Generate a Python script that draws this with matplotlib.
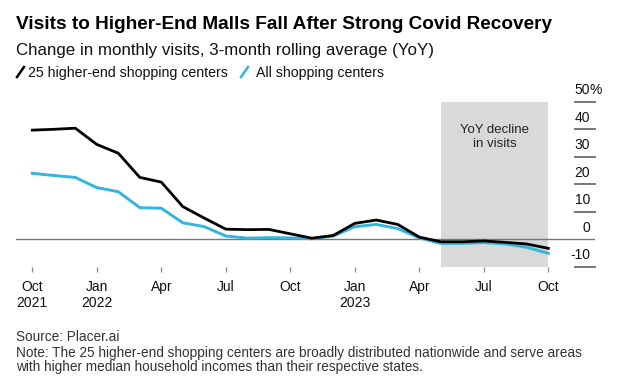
import matplotlib
matplotlib.use("Agg")
import matplotlib.pyplot as plt
from matplotlib.lines import Line2D
import matplotlib.transforms as mtransforms
import numpy as np

# ---------------- data ----------------
months = ["Oct 2021", "Nov 2021", "Dec 2021", "Jan 2022", "Feb 2022", "Mar 2022",
          "Apr 2022", "May 2022", "Jun 2022", "Jul 2022", "Aug 2022", "Sep 2022",
          "Oct 2022", "Nov 2022", "Dec 2022", "Jan 2023", "Feb 2023", "Mar 2023",
          "Apr 2023", "May 2023", "Jun 2023", "Jul 2023", "Aug 2023", "Sep 2023",
          "Oct 2023"]
higher_end = [39.7, 40.0, 40.4, 34.5, 31.3, 22.5, 20.8, 11.9, 7.7, 3.7, 3.5, 3.6,
              2.0, 0.4, 1.4, 5.8, 7.0, 5.4, 0.8, -0.9, -0.9, -0.6, -1.1, -1.7, -3.3]
all_centers = [24.0, 23.2, 22.5, 18.8, 17.3, 11.5, 11.3, 6.0, 4.6, 1.2, 0.4, 0.6,
               0.5, 0.2, 1.2, 4.6, 5.4, 3.9, 0.5, -1.5, -1.5, -1.2, -1.7, -2.9, -5.1]
tick_months = ["Oct 2021", "Jan 2022", "Apr 2022", "Jul 2022", "Oct 2022",
               "Jan 2023", "Apr 2023", "Jul 2023", "Oct 2023"]
tick_labels = ["Oct\n2021", "Jan\n2022", "Apr", "Jul", "Oct", "Jan\n2023", "Apr", "Jul", "Oct"]
y_ticks = [50, 40, 30, 20, 10, 0, -10]
shade_months = ("May 2023", "Oct 2023")
shade_range = (-10, 50)

BLACK = "#000000"
CYAN = "#33b5dd"
GRAY_TXT = "#333333"

plt.rcParams['font.family'] = ['Liberation Sans', 'DejaVu Sans']

W, H = 620, 380
fig = plt.figure(figsize=(W / 100, H / 100), dpi=100)

# axes geometry in pixels
ax_l, ax_r, ax_t, ax_b = 16, 595, 95, 272
ax = fig.add_axes([ax_l / W, 1 - ax_b / H, (ax_r - ax_l) / W, (ax_b - ax_t) / H])

x = np.arange(len(months))
x0_px, step_px = 32.3, 21.5
ax.set_xlim(-(x0_px - ax_l) / step_px, (ax_r - x0_px) / step_px)
zero_px, unit_px = 239.3, 2.75
ax.set_ylim((zero_px - ax_b) / unit_px, (zero_px - ax_t) / unit_px)

for s in ax.spines.values():
    s.set_visible(False)

# shaded region
i0, i1 = months.index(shade_months[0]), months.index(shade_months[1])
ax.fill_between([x[i0], x[i1]], shade_range[0], shade_range[1],
                color="#d9d9d9", lw=0, zorder=0)
ax.text((x[i0] + x[i1]) / 2, 37.2, "YoY decline\nin visits", ha="center", va="center",
        fontsize=9.5, color="#222222", linespacing=1.2, zorder=1)

# zero line
ax.axhline(0, color="#777777", lw=1.0, zorder=2)

# lines
ax.plot(x, all_centers, color=CYAN, lw=2.1, solid_joinstyle="round", zorder=3)
ax.plot(x, higher_end, color=BLACK, lw=2.0, solid_joinstyle="round", zorder=4)

# x ticks
ax.set_xticks([months.index(m) for m in tick_months])
ax.set_xticklabels(tick_labels, fontsize=10, color="#111111", linespacing=1.15)
ax.tick_params(axis="x", direction="in", length=3.5, width=0.9, color="#888888", pad=6)
ax.set_yticks([])

# right y-axis dashes and labels
trans = mtransforms.blended_transform_factory(ax.transAxes, ax.transData)
dash_l = (575 - ax_l) / (ax_r - ax_l)
lab_x = (590 - ax_l) / (ax_r - ax_l)
for v in y_ticks:
    if v != 0:
        ax.plot([dash_l, 1.0], [v, v], transform=trans, color="#777777", lw=1.4,
                clip_on=False, zorder=2)
    ax.text(lab_x, v + 1.6, str(v), transform=trans, ha="right", va="bottom",
            fontsize=10, color="#111111")
    if v == max(y_ticks):
        ax.text(lab_x, v + 1.6, "%", transform=trans, ha="left", va="bottom",
                fontsize=10, color="#111111")

# titles
def fy(px):
    return 1 - px / H

fig.text(16 / W, fy(29.3), "Visits to Higher-End Malls Fall After Strong Covid Recovery",
         fontsize=13.7, fontweight="bold", color="#000000", va="baseline", ha="left")
fig.text(16 / W, fy(55), "Change in monthly visits, 3-month rolling average (YoY)",
         fontsize=12.2, color="#111111", va="baseline", ha="left")

# legend
fig.add_artist(Line2D([17 / W, 24 / W], [fy(77), fy(67)], color=BLACK, lw=1.8))
fig.text(28 / W, fy(76.5), "25 higher-end shopping centers", fontsize=10.2,
         color="#111111", va="baseline", ha="left")
fig.add_artist(Line2D([241 / W, 248 / W], [fy(77), fy(67)], color=CYAN, lw=1.8))
fig.text(256 / W, fy(76.5), "All shopping centers", fontsize=10.2,
         color="#111111", va="baseline", ha="left")

# footer
fig.text(16 / W, fy(341), "Source: Placer.ai", fontsize=9.8, color=GRAY_TXT, va="baseline")
fig.text(16 / W, fy(356.5), "Note: The 25 higher-end shopping centers are broadly distributed "
         "nationwide and serve areas", fontsize=9.8, color=GRAY_TXT, va="baseline")
fig.text(16 / W, fy(370.5), "with higher median household incomes than their respective states.",
         fontsize=9.8, color=GRAY_TXT, va="baseline")

fig.savefig("out.png", dpi=100)
